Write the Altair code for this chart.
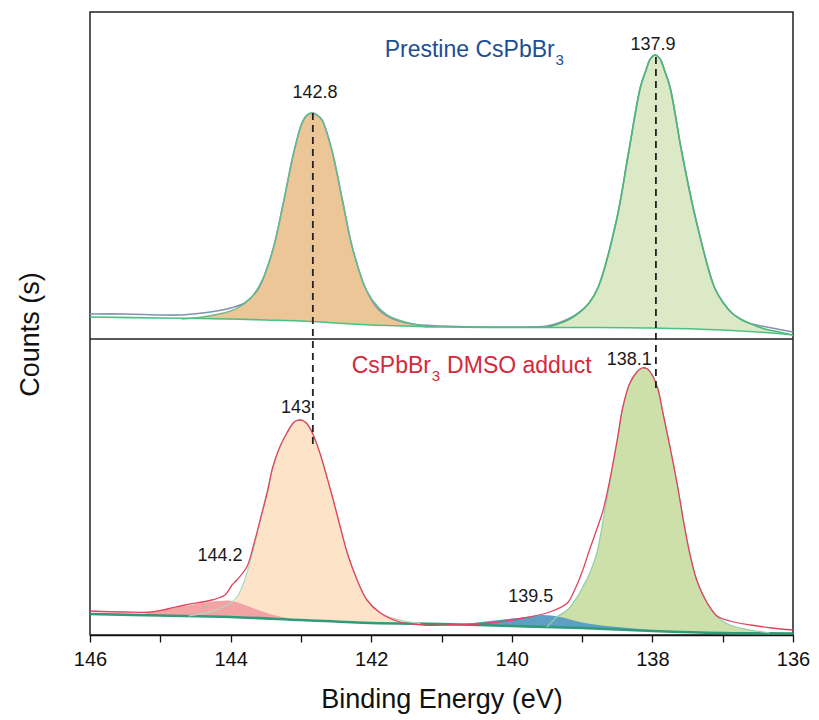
import altair as alt
import pandas as pd

# ---------------- data (E in eV, counts in a.u.) ----------------
# Pristine CsPbBr3 (upper spectrum, stacked with offset)
top_env_E = [146.0, 145.5, 145.0, 144.7, 144.4, 144.2, 144.0, 143.8, 143.6, 143.4, 143.25, 143.1,
             142.98, 142.91, 142.84, 142.77, 142.7, 142.56, 142.41, 142.27, 142.07, 141.89, 141.77,
             141.65, 141.42, 141.0, 140.5, 140.0, 139.5, 139.34, 139.2, 139.05, 138.9, 138.77,
             138.51, 138.34, 138.17, 138.09, 138.03, 137.96, 137.89, 137.83, 137.75, 137.58,
             137.38, 137.12, 137.0, 136.87, 136.75, 136.63, 136.3, 136.0]
top_env_y = [321, 321, 320, 320, 322, 324, 327, 332, 347, 385, 432, 483,
             513, 520, 522, 520, 515, 485, 435, 388, 345, 325, 319,
             315, 311, 309, 308, 308, 309, 312, 316, 322, 332, 348,
             415, 482, 548, 565, 576, 580, 576, 565, 548, 482,
             415, 348, 333, 322, 316, 312, 307, 303]

top_base_E = [146.0, 145.0, 144.0, 143.5, 143.0, 142.5, 142.0, 141.5, 141.0, 140.0, 139.0, 138.0,
              137.0, 136.5, 136.0]
top_base_y = [318, 317, 316, 315, 314, 312, 310, 309, 308, 307.5, 307.5, 307, 305, 303, 300]

p1_E = [144.7, 144.4, 144.1, 143.9, 143.7, 143.55, 143.4, 143.25, 143.1, 142.98, 142.91, 142.84,
        142.77, 142.7, 142.56, 142.41, 142.27, 142.07, 141.89, 141.77, 141.65, 141.52, 141.4, 141.2]
p1_hi = [316, 318, 322, 327, 338, 355, 385, 432, 483, 512, 520, 522,
         520, 515, 485, 435, 388, 345, 327, 320, 316, 313, 311, 308]
p1_lo = [316, 316, 315.5, 315.5, 315, 315, 314.5, 314, 314, 313.5, 313, 313,
         313, 313, 312, 311.5, 311, 310, 309.5, 309.3, 309, 308.8, 308.5, 308]

p2_E = [139.5, 139.34, 139.2, 139.05, 138.9, 138.77, 138.51, 138.34, 138.17, 138.09, 138.03, 137.96,
        137.89, 137.83, 137.75, 137.58, 137.38, 137.12, 137.0, 136.87, 136.75, 136.63, 136.4,
        136.2, 136.0]
p2_hi = [307.5, 311, 315, 322, 332, 348, 415, 482, 548, 565, 576, 580,
         576, 565, 548, 482, 415, 348, 333, 322, 316, 312, 306,
         303, 300]
p2_lo = [307.5, 307.5, 307.5, 307.5, 307.5, 307.5, 307, 307, 307, 307, 307, 307,
         307, 307, 306.5, 306, 306, 305.5, 305.2, 305, 304.5, 304, 303,
         301.5, 300]

# CsPbBr3 DMSO adduct (lower spectrum)
bot_env_E = [146.0, 145.5, 145.12, 144.9, 144.65, 144.27, 144.08, 143.98, 143.91, 143.77, 143.68,
             143.58, 143.48, 143.40, 143.30, 143.20, 143.11, 143.06, 143.01, 142.96, 142.91, 142.83,
             142.73, 142.63, 142.54, 142.44, 142.34, 142.20, 142.06, 141.87, 141.59, 141.26,
             140.92, 140.31, 139.84, 139.46, 139.21, 139.10, 139.00, 138.90, 138.80, 138.70,
             138.60, 138.50, 138.42, 138.32, 138.22, 138.15, 138.08, 138.03, 137.93, 137.85,
             137.75, 137.65, 137.56, 137.47, 137.37, 137.22, 137.08, 136.90, 136.60, 136.30,
             136.00]
bot_env_y = [24, 23, 23, 26, 30, 35, 40, 50, 55, 68, 88,
             115, 142, 168, 188, 202, 212, 214.5, 215, 214, 211, 201,
             182, 158, 135, 108, 82, 55, 35, 22, 13, 10,
             10, 12, 17, 23, 32, 46, 63, 84, 104, 125,
             157, 195, 228, 252, 263, 267, 266.5, 263, 248, 222,
             188, 152, 115, 82, 55, 32, 19, 14, 10, 7,
             5]

bot_base_E = [146.0, 145.0, 144.0, 143.0, 142.0, 141.0, 140.0, 139.0, 138.0, 137.0, 136.0]
bot_base_y = [21, 19.5, 18, 15, 12, 11, 9, 7, 4, 2, 1.5]

pc_E = [144.6, 144.3, 144.0, 143.9, 143.8, 143.7, 143.6, 143.5, 143.4, 143.3, 143.2, 143.11,
        143.06, 143.01, 142.96, 142.91, 142.83, 142.73, 142.63, 142.54, 142.44, 142.34, 142.20,
        142.06, 141.87, 141.59, 141.30]
pc_hi = [19, 23, 32, 39, 55, 79, 108, 138, 167, 188, 202, 212,
         214.5, 215, 214, 211, 201, 182, 158, 135, 108, 82, 55,
         35, 22, 15, 11.5]
pc_lo = [19, 18.5, 18, 17.5, 17, 17, 16.5, 16.5, 16, 16, 15.5, 15,
         15, 15, 15, 15, 14.5, 14, 14, 13.5, 13, 13, 12.5,
         12, 12, 11.5, 11.5]

pk_E = [145.3, 144.98, 144.65, 144.41, 144.18, 143.98, 143.80, 143.61, 143.33, 143.04]
pk_hi = [20, 25, 29, 32, 34, 34, 30, 25, 19, 15]
pk_lo = [20, 19.5, 19, 18.5, 18, 18, 17.5, 16.5, 16, 15]

bl_E = [140.8, 140.55, 140.07, 139.78, 139.56, 139.31, 139.03, 138.65, 138.18, 137.71]
bl_hi = [10.5, 12, 16, 18, 20, 18, 13, 9, 6, 3]
bl_lo = [10.5, 10, 9, 8.5, 8, 7.5, 7, 5.5, 4.5, 3]

gr_E = [139.50, 139.36, 139.21, 139.07, 138.99, 138.89, 138.79, 138.70, 138.60, 138.50, 138.42,
        138.32, 138.22, 138.15, 138.08, 138.03, 137.93, 137.85, 137.75, 137.65, 137.56, 137.47,
        137.37, 137.22, 137.08, 136.90, 136.61, 136.33]
gr_hi = [8, 18, 25, 38, 48, 62, 82, 115, 155, 195, 228,
         252, 263, 267, 266.5, 263, 248, 222, 188, 152, 115, 82,
         55, 32, 18, 10, 5, 2]
gr_lo = [8, 7.5, 7, 7, 6.5, 6, 6, 5.5, 5.5, 5, 5,
         4.5, 4.5, 4, 4, 4, 4, 3.5, 3.5, 3, 3, 3,
         2.5, 2.5, 2, 2, 2, 1.5]

# peak-position guides
dash_E = [142.83, 137.95]
dash_top = [522, 578]
dash_bottom = [188, 245]
divider_y = [296]

# annotations
peak_labels = ["142.8", "137.9", "143", "144.2", "138.1", "139.5"]
peak_label_E = [142.80, 137.99, 143.07, 144.15, 138.33, 139.73]
peak_label_y = [537, 585, 222, 74, 270, 33]

tick_values = [146, 145, 144, 143, 142, 141, 140, 139, 138, 137, 136]

# ---------------- chart ----------------
W, H = 703, 623
FONT = "Liberation Sans"
INTERP = "catmull-rom"

def line_df(E, y):
    return pd.DataFrame({"E": E, "y": y})

def area_df(E, hi, lo):
    return pd.DataFrame({"E": E, "y": hi, "y2": lo})

X = alt.X("E:Q",
          scale=alt.Scale(domain=[146, 136], nice=False, zero=False),
          axis=alt.Axis(values=tick_values, format="d",
                        labelExpr="datum.value % 2 === 0 ? datum.label : ''",
                        tickSize=7, tickWidth=1.3, tickColor="#111",
                        domainColor="#111", domainWidth=1.5,
                        labelFontSize=20, labelColor="#111", labelPadding=7,
                        labelFlush=False, labelOverlap=False,
                        titleFontSize=27, titleFontWeight="normal", titleColor="#111",
                        titleY=72, titleBaseline="alphabetic", grid=False),
          title="Binding Energy (eV)")
Y = alt.Y("y:Q",
          scale=alt.Scale(domain=[0, H], nice=False, zero=False),
          axis=alt.Axis(labels=False, ticks=False, domain=False, grid=False,
                        titleFontSize=27, titleFontWeight="normal", titleColor="#111",
                        titleX=-60, titleY=322, titleAngle=270,
                        titleAlign="center", titleBaseline="middle"),
          title="Counts (s)")
Y2 = alt.Y2("y2:Q")


def area(df, color):
    return alt.Chart(df).mark_area(color=color, opacity=1, interpolate=INTERP).encode(x=X, y=Y, y2=Y2)


def line(df, color, width):
    return alt.Chart(df).mark_line(color=color, strokeWidth=width, interpolate=INTERP).encode(x=X, y=Y)


layers = [
    # upper spectrum fills
    area(area_df(p1_E, p1_hi, p1_lo), "#ECC696"),
    area(area_df(p2_E, p2_hi, p2_lo), "#DCE9C6"),
    # lower spectrum fills
    area(area_df(pc_E, pc_hi, pc_lo), "#FDE3C8"),
    area(area_df(gr_E, gr_hi, gr_lo), "#CDE0AA"),
    area(area_df(pk_E, pk_hi, pk_lo), "#F4A3A5"),
    area(area_df(bl_E, bl_hi, bl_lo), "#5E9FC4"),
    # upper spectrum lines
    line(line_df(top_env_E, top_env_y), "#8492AE", 1.6),
    line(line_df(p1_E, p1_hi), "#63BE8C", 1.4),
    line(line_df(p2_E, p2_hi), "#4DB87A", 1.6),
    line(line_df(top_base_E, top_base_y), "#4CC083", 1.6),
    # lower spectrum lines
    line(line_df(bot_base_E, bot_base_y), "#2F9B7B", 2.6),
    line(line_df(pc_E, pc_hi), "#A8DCC0", 1.2),
    line(line_df(gr_E, gr_hi), "#8FCFA8", 1.2),
    line(line_df(bot_env_E, bot_env_y), "#E2435E", 1.3),
]

dash = alt.Chart(pd.DataFrame({"E": dash_E, "y": dash_top, "y2": dash_bottom})).mark_rule(
    color="#222", strokeWidth=1.8, strokeDash=[7, 5]).encode(x=X, y=Y, y2=Y2)

divider = alt.Chart(pd.DataFrame({"y": divider_y})).mark_rule(
    color="#222", strokeWidth=1.5).encode(y=Y, x=alt.value(0), x2=alt.value(W))

labels = alt.Chart(pd.DataFrame({"E": peak_label_E, "y": peak_label_y, "label": peak_labels})).mark_text(
    font=FONT, fontSize=18, color="#1a1a1a", align="center", baseline="alphabetic").encode(
    x=X, y=Y, text="label:N")


def txt(s, E, yv, size, color, align):
    return alt.Chart(pd.DataFrame({"E": [E], "y": [yv], "label": [s]})).mark_text(
        font=FONT, fontSize=size, color=color, align=align, baseline="alphabetic").encode(
        x=X, y=Y, text="label:N")


BLUE = "#1D4E94"
RED = "#D42A3C"
titles = [
    txt("Prestine CsPbBr", 139.39, 578, 23, BLUE, "right"),
    txt("3", 139.38, 570, 15, BLUE, "left"),
    txt("CsPbBr", 141.15, 262, 23, RED, "right"),
    txt("3", 141.14, 254, 15, RED, "left"),
    txt("DMSO adduct", 140.92, 262, 23, RED, "left"),
]

chart = alt.layer(*layers, dash, divider, labels, *titles).properties(
    width=W, height=H,
    padding={"left": 90, "top": 12, "right": 26, "bottom": 85},
    autosize=alt.AutoSizeParams(type="none"),
).configure_view(stroke="#222", strokeWidth=1.5).configure_axis(
    labelFont=FONT, titleFont=FONT)

chart.save("out.html", embed_options={"renderer": "svg", "actions": False})
